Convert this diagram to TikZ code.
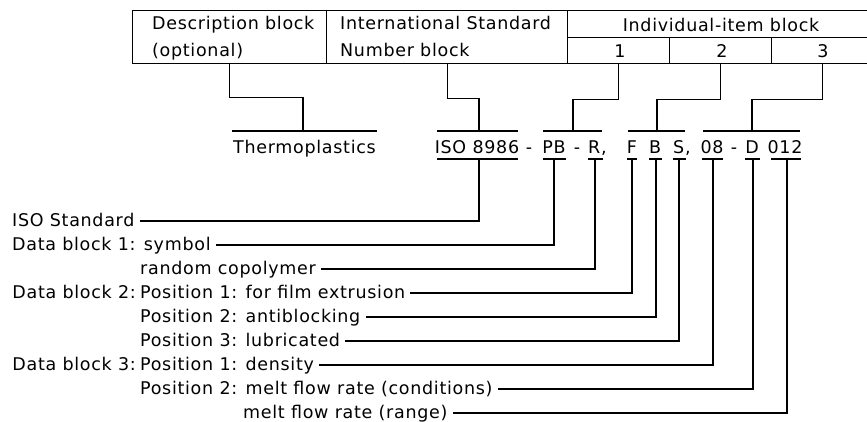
\documentclass[tikz,border=0pt]{standalone}
\usepackage{fontspec}
\setmainfont{DejaVu Sans}[LetterSpace=4]
\usetikzlibrary{calc}
\begin{document}
\begin{tikzpicture}[x=1pt,y=-1pt,font=\fontsize{17.5}{20}\selectfont,
  ln/.style={line width=1.3pt},
  cell/.style={draw,line width=1.3pt,inner sep=0pt,anchor=north west},
  txt/.style={inner sep=0pt,anchor=base west},
  tok/.style={inner sep=0pt,anchor=base},
  rtxt/.style={inner sep=0pt,anchor=base east}]
\useasboundingbox (0,0) rectangle (867,421);
% table
\node[cell,minimum width=194pt,minimum height=53pt] (desc) at (132,10) {};
\node[cell,minimum width=241pt,minimum height=53pt] (isn) at (326,10) {};
\node[cell,minimum width=306pt,minimum height=27pt] (hdr) at (567,10) {};
\node[cell,minimum width=102pt,minimum height=26pt] (c1) at (567,37) {};
\node[cell,minimum width=102pt,minimum height=26pt] (c2) at (669,37) {};
\node[cell,minimum width=102pt,minimum height=26pt] (c3) at (771,37) {};
\node[txt] (dt1) at (152,29) {Description block};
\node[txt] (dt2) at (152,56) {(optional)};
\node[txt] (it1) at (340,29) {International Standard};
\node[txt] (it2) at (340,56) {Number block};
\node[tok] (ht) at (721,31) {Individual-item block};
\node[tok] (n1) at (620,57) {1};
\node[tok] (n2) at (722,57) {2};
\node[tok] (n3) at (823,57) {3};
% upper brackets
\coordinate (th) at (303,131);
\coordinate (a2) at (479,131);
\coordinate (a3) at (573,131);
\coordinate (a4) at (657,131);
\coordinate (a5) at (752,131);
\draw[ln] (desc.south) -- ++(0,33) -| (th);
\draw[ln] (isn.south) -- ++(0,34) -| (a2);
\draw[ln] (c1.south) -- ++(0,35) -| (a3);
\draw[ln] (c2.south) -- ++(0,35) -| (a4);
\draw[ln] (c3.south) -- ++(0,35) -| (a5);
\coordinate (thL) at (232,131); \coordinate (thR) at (377,131);
\coordinate (a2L) at (437,131); \coordinate (a2R) at (518,131);
\coordinate (a3L) at (543,131); \coordinate (a3R) at (602,131);
\coordinate (a4L) at (628,131); \coordinate (a4R) at (685,131);
\coordinate (a5L) at (703,131); \coordinate (a5R) at (800,131);
\draw[ln] (thL) -- (thR);
\draw[ln] (a2L) -- (a2R);
\draw[ln] (a3L) -- (a3R);
\draw[ln] (a4L) -- (a4R);
\draw[ln] (a5L) -- (a5R);
% designation row
\node[tok] (tth) at (304.5,153) {Thermoplastics};
\node[tok] (t1) at (477,153) {ISO 8986};
\node[tok] (d1) at (529,153) {-};
\node[tok] (t2) at (554,153) {PB};
\node[tok] (d2) at (577,153) {-};
\node[txt] (t3) at (588,153) {R,};
\node[tok] (t4) at (632,153) {F};
\node[tok] (t5) at (655,153) {B};
\node[txt] (t6) at (673,153) {S,};
\node[tok] (t7) at (712,153) {08};
\node[tok] (d3) at (734,153) {-};
\node[tok] (t8) at (752,153) {D};
\node[tok] (t9) at (785,153) {012};
% underlines
\draw[ln] (437,159) -- (518,159);
\draw[ln] (543,159) -- (566,159);
\draw[ln] (588,159) -- (603,159);
\draw[ln] (627,159) -- (637,159);
\draw[ln] (649,159) -- (662,159);
\draw[ln] (673,159) -- (686,159);
\draw[ln] (702,159) -- (723,159);
\draw[ln] (745,159) -- (760,159);
\draw[ln] (771,159) -- (801,159);
\coordinate (u1) at (479,159);
\coordinate (u2) at (554,159);
\coordinate (u3) at (595,159);
\coordinate (u4) at (632,159);
\coordinate (u5) at (656,159);
\coordinate (u6) at (679,159);
\coordinate (u7) at (713,159);
\coordinate (u8) at (753,159);
\coordinate (u9) at (787,159);
% labels
\node[txt] (L1) at (12,226) {ISO Standard};
\node[txt] (L2) at (12,250) {Data block 1: symbol};
\node[txt] (L3) at (140,274) {random copolymer};
\node[rtxt] (P4) at (136,298) {Data block 2:};
\node[txt] (L4) at (140,298) {Position 1: for film extrusion};
\node[txt] (L5) at (140,322) {Position 2: antiblocking};
\node[txt] (L6) at (140,346) {Position 3: lubricated};
\node[rtxt] (P7) at (136,370) {Data block 3:};
\node[txt] (L7) at (140,370) {Position 1: density};
\node[txt] (L8) at (140,394) {Position 2: melt flow rate (conditions)};
\node[txt] (L9) at (243,418) {melt flow rate (range)};
\foreach \i/\y in {1/221,2/245,3/269,4/293,5/317,6/341,7/365,8/389,9/413}{
  \coordinate (b\i) at (0,\y);
  \draw[ln] (u\i) |- ($(L\i.east |- b\i)+(5,0)$);
}
\end{tikzpicture}
\end{document}
